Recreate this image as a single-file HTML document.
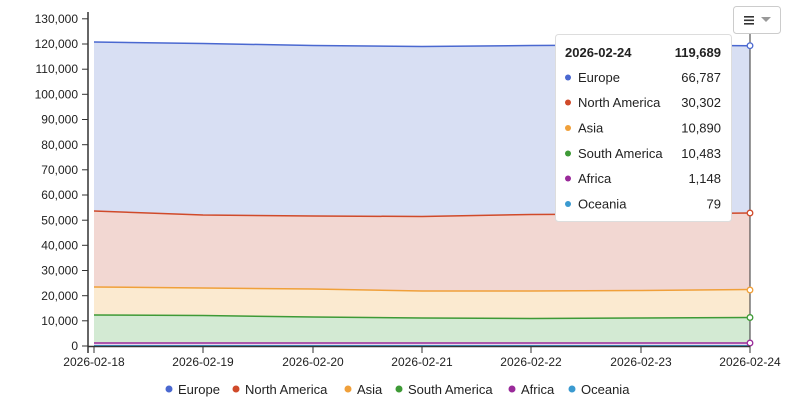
<!DOCTYPE html>
<html><head><meta charset="utf-8"><style>
body{margin:0;background:#fff;font-family:"Liberation Sans",sans-serif;}
svg text{font-family:"Liberation Sans",sans-serif;}
</style></head><body>
<svg width="800" height="404" viewBox="0 0 800 404" xmlns="http://www.w3.org/2000/svg">
<!-- areas -->
<path d="M94,42 L203,43.5 L313,45.5 L422,46.5 L531,45.5 L641,45 L750,45.7 L750,213 L641,214 L531,214.5 L422,216.5 L313,216 L203,215 L94,211 Z" fill="#d8dff3"/>
<path d="M94,211 L203,215 L313,216 L422,216.5 L531,214.5 L641,214 L750,213 L750,289.5 L641,290.5 L531,291 L422,291 L313,289 L203,288 L94,287 Z" fill="#f2d7d2"/>
<path d="M94,287 L203,288 L313,289 L422,291 L531,291 L641,290.5 L750,289.5 L750,317.5 L641,318 L531,318.5 L422,318 L313,317 L203,315.5 L94,315 Z" fill="#fbead0"/>
<path d="M94,315 L203,315.5 L313,317 L422,318 L531,318.5 L641,318 L750,317.5 L750,343 L94,343 Z" fill="#d3ead3"/>
<path d="M94,343 L750,343 L750,346 L94,346 Z" fill="#ead6ee"/>
<g fill="none" stroke-width="1.5">
<path d="M94,42 L203,43.5 L313,45.5 L422,46.5 L531,45.5 L641,45 L750,45.7" stroke="#4a68d0"/>
<path d="M94,211 L203,215 L313,216 L422,216.5 L531,214.5 L641,214 L750,213" stroke="#d04a2a"/>
<path d="M94,287 L203,288 L313,289 L422,291 L531,291 L641,290.5 L750,289.5" stroke="#f0a03a"/>
<path d="M94,315 L203,315.5 L313,317 L422,318 L531,318.5 L641,318 L750,317.5" stroke="#3e9a36"/>
<path d="M94,343 L750,343" stroke="#9a2a9a"/>
<path d="M94,345.8 L750,345.8" stroke="#3a9ad0"/>
</g>
<!-- crosshair -->
<line x1="750" y1="18" x2="750" y2="346" stroke="#333" stroke-width="1"/>
<g fill="#fff" stroke-width="1.3">
<circle cx="750" cy="45.7" r="2.8" stroke="#4a68d0"/>
<circle cx="750" cy="213" r="2.8" stroke="#d04a2a"/>
<circle cx="750" cy="290" r="2.8" stroke="#f0a03a"/>
<circle cx="750" cy="317.5" r="2.8" stroke="#3e9a36"/>
<circle cx="750" cy="343" r="2.8" stroke="#9a2a9a"/>
</g>
<!-- axes -->
<g stroke="#333" stroke-width="1.5">
<line x1="88" y1="12" x2="88" y2="353"/>
<line x1="88" y1="346.5" x2="750" y2="346.5"/>
</g>
<g stroke="#333" stroke-width="1">
<line x1="82" y1="18.8" x2="88" y2="18.8"/><line x1="82" y1="44" x2="88" y2="44"/><line x1="82" y1="69.2" x2="88" y2="69.2"/><line x1="82" y1="94.3" x2="88" y2="94.3"/><line x1="82" y1="119.5" x2="88" y2="119.5"/><line x1="82" y1="144.7" x2="88" y2="144.7"/><line x1="82" y1="169.8" x2="88" y2="169.8"/><line x1="82" y1="195" x2="88" y2="195"/><line x1="82" y1="220.2" x2="88" y2="220.2"/><line x1="82" y1="245.3" x2="88" y2="245.3"/><line x1="82" y1="270.5" x2="88" y2="270.5"/><line x1="82" y1="295.7" x2="88" y2="295.7"/><line x1="82" y1="320.8" x2="88" y2="320.8"/><line x1="82" y1="346" x2="88" y2="346"/>
<line x1="94" y1="346" x2="94" y2="353"/><line x1="203" y1="346" x2="203" y2="353"/><line x1="313" y1="346" x2="313" y2="353"/><line x1="422" y1="346" x2="422" y2="353"/><line x1="531" y1="346" x2="531" y2="353"/><line x1="641" y1="346" x2="641" y2="353"/><line x1="750" y1="346" x2="750" y2="353"/>
</g>
<g font-size="12" fill="#222" text-anchor="end">
<text x="78" y="23">130,000</text><text x="78" y="48">120,000</text><text x="78" y="73">110,000</text><text x="78" y="98.5">100,000</text><text x="78" y="123.5">90,000</text><text x="78" y="149">80,000</text><text x="78" y="174">70,000</text><text x="78" y="199">60,000</text><text x="78" y="224.5">50,000</text><text x="78" y="249.5">40,000</text><text x="78" y="274.5">30,000</text><text x="78" y="300">20,000</text><text x="78" y="325">10,000</text><text x="78" y="350">0</text>
</g>
<g font-size="12" fill="#222" text-anchor="middle">
<text x="94" y="366">2026-02-18</text><text x="203" y="366">2026-02-19</text><text x="313" y="366">2026-02-20</text><text x="422" y="366">2026-02-21</text><text x="531" y="366">2026-02-22</text><text x="641" y="366">2026-02-23</text><text x="750" y="366">2026-02-24</text>
</g>
<!-- legend -->
<g font-size="13" fill="#222">
<circle cx="169" cy="389" r="3.5" fill="#4a68d0"/><text x="178" y="394">Europe</text>
<circle cx="236" cy="389" r="3.5" fill="#d04a2a"/><text x="245" y="394">North America</text>
<circle cx="348" cy="389" r="3.5" fill="#f0a03a"/><text x="357" y="394">Asia</text>
<circle cx="399" cy="389" r="3.5" fill="#3e9a36"/><text x="408" y="394">South America</text>
<circle cx="512" cy="389" r="3.5" fill="#9a2a9a"/><text x="521" y="394">Africa</text>
<circle cx="572" cy="389" r="3.5" fill="#3a9ad0"/><text x="581" y="394">Oceania</text>
</g>
<!-- menu button -->
<rect x="733.5" y="6.5" width="47" height="27" rx="3" fill="#fff" stroke="#ccc"/>
<g fill="#333"><rect x="744" y="16" width="10" height="1.6"/><rect x="744" y="19.5" width="10" height="1.6"/><rect x="744" y="23" width="10" height="1.6"/></g>
<path d="M761,17 L771,17 L766,22 Z" fill="#999"/>
<!-- tooltip -->
<rect x="555.5" y="34.5" width="176" height="187" rx="3" fill="#fff" stroke="#ddd"/>
<g font-size="13" fill="#222">
<text x="565" y="57" font-weight="bold">2026-02-24</text><text x="721" y="57" font-weight="bold" text-anchor="end">119,689</text>
<circle cx="568" cy="77.5" r="3" fill="#4a68d0"/><text x="578" y="82">Europe</text><text x="721" y="82" text-anchor="end">66,787</text>
<circle cx="568" cy="102.5" r="3" fill="#d04a2a"/><text x="578" y="107">North America</text><text x="721" y="107" text-anchor="end">30,302</text>
<circle cx="568" cy="128" r="3" fill="#f0a03a"/><text x="578" y="132.5">Asia</text><text x="721" y="132.5" text-anchor="end">10,890</text>
<circle cx="568" cy="153.5" r="3" fill="#3e9a36"/><text x="578" y="158">South America</text><text x="721" y="158" text-anchor="end">10,483</text>
<circle cx="568" cy="178.5" r="3" fill="#9a2a9a"/><text x="578" y="183">Africa</text><text x="721" y="183" text-anchor="end">1,148</text>
<circle cx="568" cy="204" r="3" fill="#3a9ad0"/><text x="578" y="208.5">Oceania</text><text x="721" y="208.5" text-anchor="end">79</text>
</g>
</svg>
</body></html>
